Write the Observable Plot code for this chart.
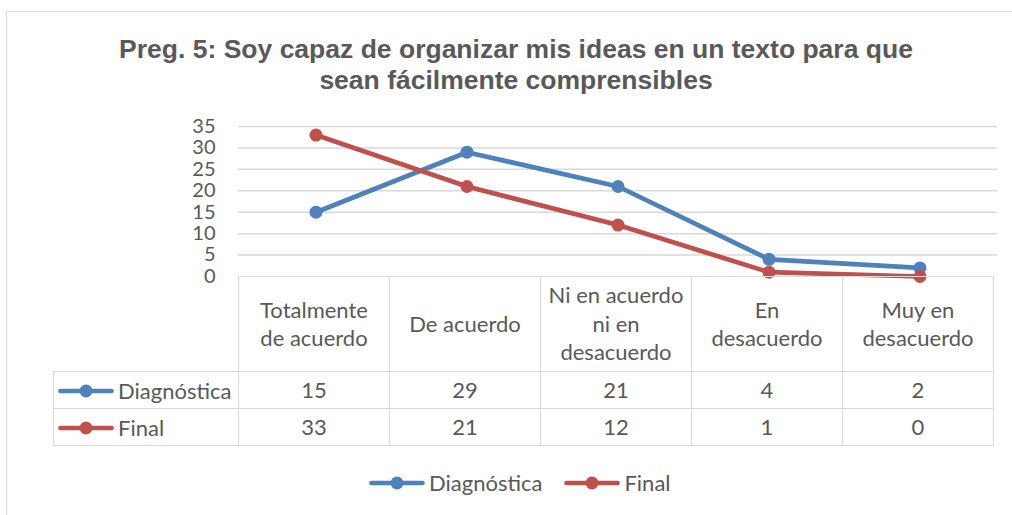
<!DOCTYPE html>
<html><head><meta charset="utf-8">
<script src="https://cdn.jsdelivr.net/npm/d3@7"></script>
<script src="https://cdn.jsdelivr.net/npm/@observablehq/plot@0.6"></script>
<style>
body{margin:0;background:#fff;}
#chart{position:relative;width:1012px;height:515px;overflow:hidden;background:#fff;font-family:Lato,"Noto Sans",sans-serif;color:#595959;}
#frame{position:absolute;left:6px;top:11px;width:1040px;height:540px;border:1.5px solid #d9d9d9;box-sizing:border-box;}
#title{position:absolute;left:0;width:1032px;top:34px;text-align:center;font-weight:bold;font-size:26.5px;font-family:"Liberation Sans",Arial,sans-serif;line-height:31px;color:#595959;}
#plot{position:absolute;left:0;top:0;}
table{position:absolute;left:53px;top:276px;border-collapse:collapse;table-layout:fixed;font-size:22px;color:#595959;}
td{border:1.5px solid #d9d9d9;text-align:center;vertical-align:middle;padding:0;}
td.hdr{height:94px;line-height:28.5px;}
td.val{height:36px;line-height:24px;}
td.blank{border:none;}
td.leg{text-align:left;padding-left:4px;white-space:nowrap;}
.sym{display:inline-block;vertical-align:middle;}
#legend{position:absolute;left:369px;top:469px;font-size:22px;white-space:nowrap;display:flex;align-items:center;}
#legend span.t{margin-left:4px;}
</style></head>
<body><div id="chart"><div id="frame"></div><div id="title">Preg. 5: Soy capaz de organizar mis ideas en un texto para que<br>sean fácilmente comprensibles</div></div>
<script>
const categories = ["Totalmente de acuerdo","De acuerdo","Ni en acuerdo ni en desacuerdo","En desacuerdo","Muy en desacuerdo"];
const headerLines = [["Totalmente","de acuerdo"],["De acuerdo"],["Ni en acuerdo","ni en","desacuerdo"],["En","desacuerdo"],["Muy en","desacuerdo"]];
const diagnostica = [15,29,21,4,2];
const final = [33,21,12,1,0];
const seriesNames = ["Diagnóstica","Final"];
const seriesColors = ["#4f81bd","#c0504d"];
const yTicks = [0,5,10,15,20,25,30,35];

const seriesValues = [diagnostica, final];
const rows = seriesNames.map((s,si)=>categories.map((c,i)=>({series:s, cat:c, value:seriesValues[si][i]})));

const marks = [
  Plot.gridY(yTicks.filter(d=>d>0), {stroke:"#d9d9d9", strokeOpacity:1, strokeWidth:1.5}),
  Plot.axisY(yTicks, {tickSize:0, tickPadding:23, fill:"#595959", fontSize:20, fontFamily:"Lato", label:null})
];
rows.forEach((r,si)=>{
  marks.push(Plot.line(r, {x:"cat", y:"value", stroke:seriesColors[si], strokeWidth:4.7, strokeLinejoin:"round", strokeLinecap:"round"}));
  marks.push(Plot.dot(r, {x:"cat", y:"value", fill:seriesColors[si], r:6.5}));
});

const plot = Plot.plot({
  width:1012, height:290,
  marginLeft:238, marginRight:15, marginTop:126, marginBottom:14,
  x:{type:"band", domain:categories, padding:0, axis:null},
  y:{domain:[0,35], axis:null},
  style:{fontFamily:"Lato", fontSize:"20px", color:"#595959", background:"transparent", overflow:"visible"},
  marks
});
plot.id = "plot";
const chart = document.getElementById("chart");
chart.appendChild(plot);

const xs = plot.scale("x");
const bw = xs.bandwidth;

function symbol(color){
  const ns="http://www.w3.org/2000/svg";
  const svg=document.createElementNS(ns,"svg");
  svg.setAttribute("width",56); svg.setAttribute("height",16); svg.setAttribute("class","sym");
  const l=document.createElementNS(ns,"line");
  l.setAttribute("x1",2.5);l.setAttribute("x2",53.5);l.setAttribute("y1",8);l.setAttribute("y2",8);
  l.setAttribute("stroke",color);l.setAttribute("stroke-width",4.7);l.setAttribute("stroke-linecap","round");
  const c=document.createElementNS(ns,"circle");
  c.setAttribute("cx",28);c.setAttribute("cy",8);c.setAttribute("r",6.5);c.setAttribute("fill",color);
  svg.appendChild(l);svg.appendChild(c);return svg;
}

const table=document.createElement("table");
const cg=document.createElement("colgroup");
const c0=document.createElement("col"); c0.style.width=(xs.range[0]-53)+"px"; cg.appendChild(c0);
categories.forEach(()=>{const c=document.createElement("col"); c.style.width=bw+"px"; cg.appendChild(c);});
table.appendChild(cg);
const hr=table.insertRow();
const b=hr.insertCell(); b.className="blank";
headerLines.forEach(lines=>{const td=hr.insertCell(); td.className="hdr"; td.innerHTML=lines.join("<br>");});
seriesNames.forEach((s,si)=>{
  const tr=table.insertRow();
  const lc=tr.insertCell(); lc.className="val leg";
  lc.appendChild(symbol(seriesColors[si]));
  const sp=document.createElement("span"); sp.textContent=s; sp.style.marginLeft="4px"; sp.style.verticalAlign="middle"; lc.appendChild(sp);
  seriesValues[si].forEach(v=>{const td=tr.insertCell(); td.className="val"; td.textContent=v;});
});
chart.appendChild(table);

const leg=document.createElement("div"); leg.id="legend";
seriesNames.forEach((s,si)=>{
  const w=document.createElement("span"); w.style.display="flex"; w.style.alignItems="center";
  if(si>0) w.style.marginLeft="22px";
  w.appendChild(symbol(seriesColors[si]));
  const t=document.createElement("span"); t.className="t"; t.textContent=s; w.appendChild(t);
  leg.appendChild(w);
});
chart.appendChild(leg);
</script>
</body></html>
